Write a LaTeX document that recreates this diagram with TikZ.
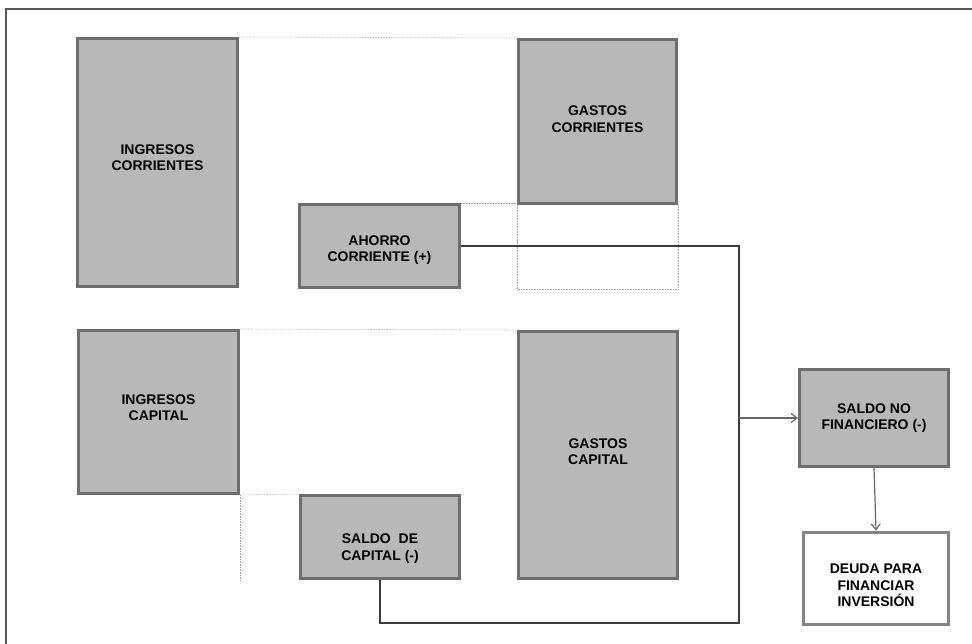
\documentclass[tikz,border=0pt]{standalone}
\usepackage{fontspec}
\setmainfont{Liberation Sans}
\usetikzlibrary{arrows.meta,calc}
\definecolor{boxfill}{HTML}{B8B8B8}
\definecolor{boxline}{HTML}{6E6E6E}
\definecolor{guide}{HTML}{A0A0A0}
\definecolor{conn}{HTML}{3A3A3A}
\definecolor{arr}{HTML}{666666}
\begin{document}
\begin{tikzpicture}[x=1pt,y=-1pt,
  blk/.style={draw=boxline,fill=boxfill,line width=3pt,inner sep=0pt},
  whiteblk/.style={draw=boxline!85,fill=white,line width=3.5pt,inner sep=0pt},
  txt/.style={font=\fontsize{14}{16.5}\selectfont\bfseries,align=center,text=black},
  guideline/.style={draw=guide,line width=0.6pt,densely dotted},
  connector/.style={draw=conn,line width=1.3pt},
  arrowline/.style={draw=arr,line width=1.2pt,-{Straight Barb[length=6pt,width=9pt]}}]
\useasboundingbox (0,0) rectangle (972,644);
% outer frame
\draw[draw=black!65,line width=1.5pt] (6,650) -- (6,9) -- (980,9);
% boxes
\node[blk,minimum width=160pt,minimum height=248pt,
  label={[txt,yshift=5pt]center:INGRESOS\\CORRIENTES}] (ic) at (157.5,162.5) {};
\node[blk,minimum width=160pt,minimum height=83pt,
  label={[txt,yshift=-4pt]center:AHORRO\\CORRIENTE (+)}] (ahorro) at (379.5,246) {};
\node[blk,minimum width=158pt,minimum height=164pt,
  label={[txt,yshift=2.5pt]center:GASTOS\\CORRIENTES}] (gc) at (597.5,121.5) {};
\node[blk,minimum width=160pt,minimum height=163pt,
  label={[txt,yshift=4.5pt]center:INGRESOS\\CAPITAL}] (icap) at (158.5,412) {};
\node[blk,minimum width=159pt,minimum height=83pt,
  label={[txt,yshift=-11.5pt]center:SALDO\ \ DE\\CAPITAL (-)}] (scap) at (380,537) {};
\node[blk,minimum width=159pt,minimum height=247pt,
  label={[txt,yshift=3.5pt]center:GASTOS\\CAPITAL}] (gcap) at (598,455) {};
\node[blk,minimum width=149pt,minimum height=97pt,
  label={[txt]center:SALDO NO\\FINANCIERO (-)}] (snf) at (874,418) {};
\node[whiteblk,minimum width=145pt,minimum height=92pt,
  label={[txt,yshift=-7pt]center:DEUDA PARA\\FINANCIAR\\INVERSIÓN}] (deuda) at (876,578.5) {};
% guide lines
\draw[guideline] (ic.north east) -- (gc.north west);
\draw[guideline] (ahorro.north east) -- (gc.south west |- ahorro.north east);
\draw[guideline] (gc.south west) -- (gc.south west |- ahorro.south)
  -- (gc.south east |- ahorro.south) -- (gc.south east);
\draw[guideline] (icap.north east) -- (gcap.north west);
\draw[guideline] (icap.south east) -- (scap.north west);
\draw[guideline] (icap.south east) -- (icap.south east |- scap.south);
% connectors
\coordinate (jbot) at (739,623);
\draw[connector] (ahorro.east) -| (jbot) -| (scap.south);
\draw[arrowline] (jbot |- snf.west) -- (snf.west);
\draw[arrowline] (snf.south) -- (deuda.north);
\end{tikzpicture}
\end{document}
